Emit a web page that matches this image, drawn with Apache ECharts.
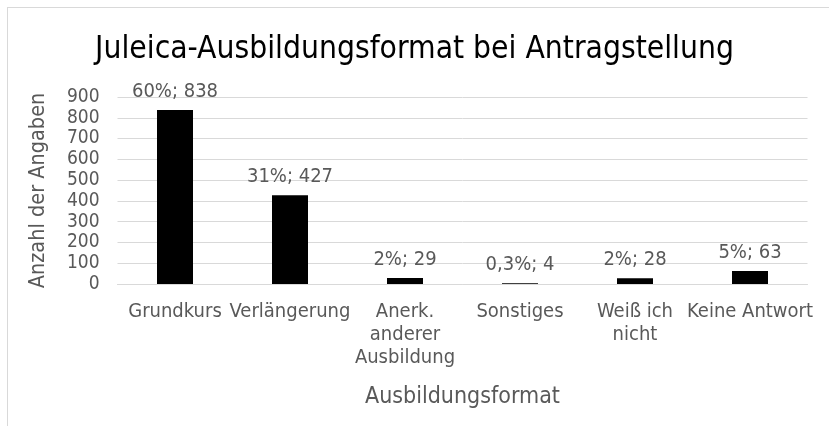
<!DOCTYPE html>
<html>
  <head>
    <meta charset="utf-8" />
    <title>Juleica-Ausbildungsformat</title>
    <script src="https://cdn.jsdelivr.net/npm/echarts@6/dist/echarts.min.js"></script>
    <style>
      body { margin: 0; background: #fff; }
      #rahmen { position: absolute; left: 7px; top: 7px; width: 830px; height: 430px; border: 1px solid #d9d9d9; }
      #chart { position: absolute; left: 0; top: 0; width: 829px; height: 426px; }
    </style>
  </head>
  <body>
    <div id="rahmen"></div>
    <div id="chart"></div>
    <script type="text/javascript">
      // Daten
      var kategorien = ['Grundkurs', 'Verlängerung', 'Anerk.\nanderer\nAusbildung', 'Sonstiges', 'Weiß ich\nnicht', 'Keine Antwort'];
      var anzahl = [838, 427, 29, 4, 28, 63];
      var prozent = ['60%', '31%', '2%', '0,3%', '2%', '5%'];
      var yTicks = [0, 900, 100];

      var schrift = "'Liberation Sans Narrow', 'DejaVu Sans Condensed', sans-serif";
      var grau = '#595959';

      var chart = echarts.init(document.getElementById('chart'));
      var option = {
        animation: false,
        title: {
          text: 'Juleica-Ausbildungsformat bei Antragstellung',
          left: 'center',
          top: 29,
          textStyle: { fontFamily: schrift, fontSize: 31.5, fontWeight: 'normal', color: '#000' }
        },
        grid: { left: 117.5, right: 21.5, top: 97, bottom: 142 },
        xAxis: {
          type: 'category',
          data: kategorien,
          name: 'Ausbildungsformat',
          nameLocation: 'middle',
          nameGap: 102,
          nameTextStyle: { fontFamily: schrift, fontSize: 23, color: grau },
          axisLine: { lineStyle: { color: '#d9d9d9' } },
          axisTick: { show: false },
          axisLabel: { interval: 0, fontFamily: schrift, fontSize: 20, color: grau, margin: 16, lineHeight: 23 }
        },
        yAxis: {
          type: 'value',
          min: yTicks[0],
          max: yTicks[1],
          interval: yTicks[2],
          name: 'Anzahl der Angaben',
          nameLocation: 'middle',
          nameGap: 68,
          nameTextStyle: { fontFamily: schrift, fontSize: 21.5, color: grau },
          axisLabel: {
            fontFamily: schrift, fontSize: 19, color: grau, margin: 18,
            showMinLabel: true, showMaxLabel: true, hideOverlap: false
          },
          splitLine: { lineStyle: { color: '#d9d9d9' } }
        },
        series: [{
          type: 'bar',
          data: anzahl,
          barWidth: 36,
          itemStyle: { color: '#000' },
          label: {
            show: true,
            position: 'top',
            distance: 8,
            fontFamily: schrift,
            fontSize: 20,
            color: grau,
            formatter: function (p) { return prozent[p.dataIndex] + '; ' + p.value; }
          }
        }]
      };
      chart.setOption(option);
    </script>
  </body>
</html>
